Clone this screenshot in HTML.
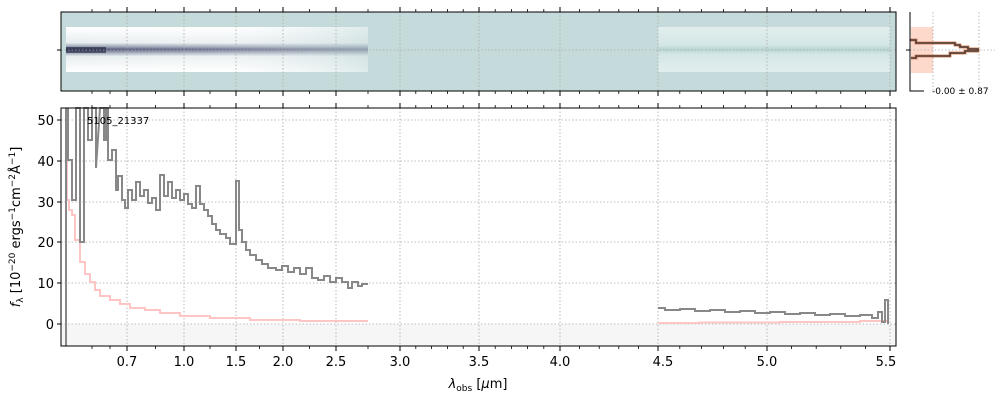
<!DOCTYPE html>
<html><head><meta charset="utf-8"><style>body{margin:0;background:#fff}svg{display:block;font-family:"DejaVu Sans","Liberation Sans",sans-serif}</style></head><body>
<svg width="1000" height="400" viewBox="0 0 1000 400" xmlns="http://www.w3.org/2000/svg">
<defs>
<linearGradient id="bandL" x1="0" y1="0" x2="0" y2="1">
<stop offset="0" stop-color="#fff"/><stop offset="0.35" stop-color="#e8eef0"/><stop offset="0.45" stop-color="#8a93a8"/><stop offset="0.5" stop-color="#4a4f73"/><stop offset="0.55" stop-color="#8a93a8"/><stop offset="0.65" stop-color="#e8eef0"/><stop offset="1" stop-color="#fff"/></linearGradient>
<linearGradient id="fade" x1="0" y1="0" x2="1" y2="0"><stop offset="0" stop-color="#fff" stop-opacity="0"/><stop offset="0.5" stop-color="#fff" stop-opacity="0.2"/><stop offset="1" stop-color="#c5dbdb" stop-opacity="0.55"/></linearGradient>
<linearGradient id="bandR" x1="0" y1="0" x2="0" y2="1">
<stop offset="0" stop-color="#e2eeee"/><stop offset="0.4" stop-color="#d4e6e6"/><stop offset="0.5" stop-color="#b9d4d4"/><stop offset="0.6" stop-color="#d4e6e6"/><stop offset="1" stop-color="#e2eeee"/></linearGradient>
</defs>
<rect x="61" y="12" width="835" height="79" fill="#c5dbdb"/>
<rect x="66" y="27" width="302" height="45" fill="url(#bandL)"/>
<rect x="66" y="27" width="302" height="45" fill="url(#fade)"/>
<rect x="66" y="47" width="40" height="6" fill="#1d1f3a" opacity="0.6"/>
<rect x="658" y="27" width="232" height="45" fill="url(#bandR)"/>
<g stroke="#aaa" stroke-width="0.8" stroke-dasharray="1.5,2">
<line x1="61" y1="50" x2="896" y2="50"/>
<line x1="127" y1="12" x2="127" y2="91"/><line x1="184" y1="12" x2="184" y2="91"/><line x1="236" y1="12" x2="236" y2="91"/><line x1="283" y1="12" x2="283" y2="91"/><line x1="336" y1="12" x2="336" y2="91"/><line x1="400" y1="12" x2="400" y2="91"/><line x1="479" y1="12" x2="479" y2="91"/><line x1="560" y1="12" x2="560" y2="91"/><line x1="658" y1="12" x2="658" y2="91"/><line x1="767" y1="12" x2="767" y2="91"/><line x1="890" y1="12" x2="890" y2="91"/>
</g>
<rect x="61" y="12" width="835" height="79" fill="none" stroke="#000" stroke-width="1"/>
<line x1="57" y1="50" x2="61" y2="50" stroke="#000"/>
<rect x="911" y="27" width="22" height="46" fill="#fdd9cc"/>
<line x1="933" y1="12" x2="933" y2="91" stroke="#aaa" stroke-dasharray="1.5,2" stroke-width="0.8"/>
<line x1="979" y1="12" x2="979" y2="91" stroke="#aaa" stroke-dasharray="1.5,2" stroke-width="0.8"/>
<line x1="910" y1="50" x2="995" y2="50" stroke="#aaa" stroke-dasharray="1.5,2" stroke-width="0.8"/>
<polyline points="910,40 916,40 916,43 955,43 955,45 960,45 960,47 968,47 968,49 978,49 978,51 965,51 965,53 950,53 950,56 916,56 916,58 911,58" fill="none" stroke="#d98a66" stroke-width="3"/>
<polyline points="910,40 916,40 916,43 955,43 955,45 960,45 960,47 968,47 968,49 978,49 978,51 965,51 965,53 950,53 950,56 916,56 916,58 911,58" fill="none" stroke="#4a3a34" stroke-width="1.5"/>
<polyline points="910,12 910,91 924,91" fill="none" stroke="#000"/>
<line x1="906" y1="50" x2="910" y2="50" stroke="#000"/>
<text x="932" y="94" font-size="9">-0.00 ± 0.87</text>
<rect x="61" y="324" width="835" height="22" fill="#f6f6f6"/>
<g stroke="#aaa" stroke-width="0.8" stroke-dasharray="1.5,2">
<line x1="61" y1="120" x2="896" y2="120"/><line x1="61" y1="161" x2="896" y2="161"/><line x1="61" y1="202" x2="896" y2="202"/><line x1="61" y1="242" x2="896" y2="242"/><line x1="61" y1="283" x2="896" y2="283"/><line x1="61" y1="324" x2="896" y2="324"/>
<line x1="127" y1="108" x2="127" y2="346"/><line x1="184" y1="108" x2="184" y2="346"/><line x1="236" y1="108" x2="236" y2="346"/><line x1="283" y1="108" x2="283" y2="346"/><line x1="336" y1="108" x2="336" y2="346"/><line x1="400" y1="108" x2="400" y2="346"/><line x1="479" y1="108" x2="479" y2="346"/><line x1="560" y1="108" x2="560" y2="346"/><line x1="658" y1="108" x2="658" y2="346"/><line x1="767" y1="108" x2="767" y2="346"/><line x1="890" y1="108" x2="890" y2="346"/>
</g>
<polyline fill="none" stroke="#ffc4c4" stroke-width="2" points="67,108 67,200 69,200 69,210 72,210 72,215 75,215 75,240 80,240 80,262 85,262 85,274 90,274 90,282 95,282 95,290 100,290 100,296 110,296 110,300 120,300 120,304 130,304 130,308 145,308 145,310 160,310 160,313 180,313 180,316 210,316 210,318 250,318 250,320 300,320 300,321 368,321"/>
<polyline fill="none" stroke="#ffc4c4" stroke-width="2" points="658,323 700,323 700,322.5 780,322.5 780,322 860,322 860,321 888,321 888,318"/>
<line x1="66" y1="108" x2="66" y2="346" stroke="#888" stroke-width="2"/>
<polyline fill="none" stroke="#888" stroke-width="2" points="68,108 68,160 72,160 72,200 76,200 76,108 80,108 80,242 84,242 84,108 88,108 88,140 92,140 92,108 96,108 96,168 100,108 104,108 104,140 106,140 106,108 108,108 108,160 112,160 112,150 116,150 116,190 118,190 118,176 122,176 122,200 125,200 125,208 128,208 128,190 132,190 132,200 136,200 136,182 140,182 140,196 144,196 144,190 148,190 148,203 152,203 152,198 156,198 156,210 160,210 160,175 164,175 164,196 168,196 168,182 172,182 172,198 176,198 176,190 180,190 180,200 184,200 184,194 188,194 188,204 192,204 192,208 196,208 196,186 200,186 200,204 204,204 204,210 208,210 208,216 212,216 212,224 216,224 216,230 220,230 220,234 226,234 226,238 230,238 230,244 236,244 236,181 239,181 239,230 242,230 242,242 246,242 246,250 250,250 250,255 256,255 256,260 262,260 262,264 268,264 268,268 276,268 276,270 282,270 282,266 288,266 288,272 294,272 294,268 300,268 300,274 306,274 306,268 312,268 312,278 318,278 318,280 324,280 324,276 330,276 330,282 336,282 336,278 342,278 342,282 348,282 348,288 352,288 352,282 358,282 358,286 362,286 362,284 368,284"/>
<polyline fill="none" stroke="#888" stroke-width="2" points="658,308 665,308 665,310 680,310 680,309 695,309 695,311 710,311 710,310 725,310 725,312 740,312 740,311 755,311 755,313 770,313 770,312 785,312 785,314 800,314 800,313 815,313 815,315 830,315 830,314 845,314 845,316 860,316 860,315 872,315 872,318 878,318 878,312 882,312 882,322 885,322 885,300 888,300 888,324"/>
<rect x="61" y="108" width="835" height="238" fill="none" stroke="#000" stroke-width="1"/>
<text x="87" y="124" font-size="10">5105_21337</text>
<g stroke="#000"><line x1="57" y1="120" x2="61" y2="120"/><line x1="57" y1="161" x2="61" y2="161"/><line x1="57" y1="202" x2="61" y2="202"/><line x1="57" y1="242" x2="61" y2="242"/><line x1="57" y1="283" x2="61" y2="283"/><line x1="57" y1="324" x2="61" y2="324"/></g>
<g font-size="13" text-anchor="end"><text x="54" y="125">50</text><text x="54" y="166">40</text><text x="54" y="207">30</text><text x="54" y="247">20</text><text x="54" y="288">10</text><text x="54" y="329">0</text></g>
<path stroke="#000" stroke-width="1" fill="none" d="M127 346v5M127 12v-5M127 91v5M127 108v-5M184 346v5M184 12v-5M184 91v5M184 108v-5M236 346v5M236 12v-5M236 91v5M236 108v-5M283 346v5M283 12v-5M283 91v5M283 108v-5M336 346v5M336 12v-5M336 91v5M336 108v-5M400 346v5M400 12v-5M400 91v5M400 108v-5M479 346v5M479 12v-5M479 91v5M479 108v-5M560 346v5M560 12v-5M560 91v5M560 108v-5M658 346v5M658 12v-5M658 91v5M658 108v-5M767 346v5M767 12v-5M767 91v5M767 108v-5M890 346v5M890 12v-5M890 91v5M890 108v-5"/>
<path stroke="#000" stroke-width="0.8" fill="none" d="M92 346v3M92 12v-3M92 91v3M92 108v-3M110 346v3M110 12v-3M110 91v3M110 108v-3M155.5 346v3M155.5 12v-3M155.5 91v3M155.5 108v-3M210 346v3M210 12v-3M210 91v3M210 108v-3M259.5 346v3M259.5 12v-3M259.5 91v3M259.5 108v-3M309.5 346v3M309.5 12v-3M309.5 91v3M309.5 108v-3M368 346v3M368 12v-3M368 91v3M368 108v-3M415.8 346v3M415.8 12v-3M415.8 91v3M415.8 108v-3M431.6 346v3M431.6 12v-3M431.6 91v3M431.6 108v-3M447.4 346v3M447.4 12v-3M447.4 91v3M447.4 108v-3M463.2 346v3M463.2 12v-3M463.2 91v3M463.2 108v-3M495.2 346v3M495.2 12v-3M495.2 91v3M495.2 108v-3M511.4 346v3M511.4 12v-3M511.4 91v3M511.4 108v-3M527.6 346v3M527.6 12v-3M527.6 91v3M527.6 108v-3M543.8 346v3M543.8 12v-3M543.8 91v3M543.8 108v-3M579.6 346v3M579.6 12v-3M579.6 91v3M579.6 108v-3M599.2 346v3M599.2 12v-3M599.2 91v3M599.2 108v-3M618.8 346v3M618.8 12v-3M618.8 91v3M618.8 108v-3M638.4 346v3M638.4 12v-3M638.4 91v3M638.4 108v-3M679.8 346v3M679.8 12v-3M679.8 91v3M679.8 108v-3M701.6 346v3M701.6 12v-3M701.6 91v3M701.6 108v-3M723.4 346v3M723.4 12v-3M723.4 91v3M723.4 108v-3M745.2 346v3M745.2 12v-3M745.2 91v3M745.2 108v-3M791.6 346v3M791.6 12v-3M791.6 91v3M791.6 108v-3M816.2 346v3M816.2 12v-3M816.2 91v3M816.2 108v-3M840.8 346v3M840.8 12v-3M840.8 91v3M840.8 108v-3M865.4 346v3M865.4 12v-3M865.4 91v3M865.4 108v-3"/>
<g font-size="13" text-anchor="middle"><text x="127" y="366">0.7</text><text x="184" y="366">1.0</text><text x="236" y="366">1.5</text><text x="283" y="366">2.0</text><text x="336" y="366">2.5</text><text x="400" y="366">3.0</text><text x="479" y="366">3.5</text><text x="560" y="366">4.0</text><text x="663" y="366">4.5</text><text x="767" y="366">5.0</text><text x="886" y="366">5.5</text></g>
<text x="478" y="388" font-size="13" text-anchor="middle"><tspan font-style="italic">λ</tspan><tspan font-size="9" dy="3">obs</tspan><tspan dy="-3"> [</tspan><tspan font-style="italic">μ</tspan>m]</text>
<text transform="translate(20,227) rotate(-90)" font-size="13" text-anchor="middle"><tspan font-style="italic">f</tspan><tspan font-size="9" dy="3">λ</tspan><tspan dy="-3"> [10</tspan><tspan font-size="9" dy="-5">−20</tspan><tspan dy="5"> ergs</tspan><tspan font-size="9" dy="-5">−1</tspan><tspan dy="5">cm</tspan><tspan font-size="9" dy="-5">−2</tspan><tspan dy="5">Å</tspan><tspan font-size="9" dy="-5">−1</tspan><tspan dy="5">]</tspan></text>
</svg>
</body></html>
